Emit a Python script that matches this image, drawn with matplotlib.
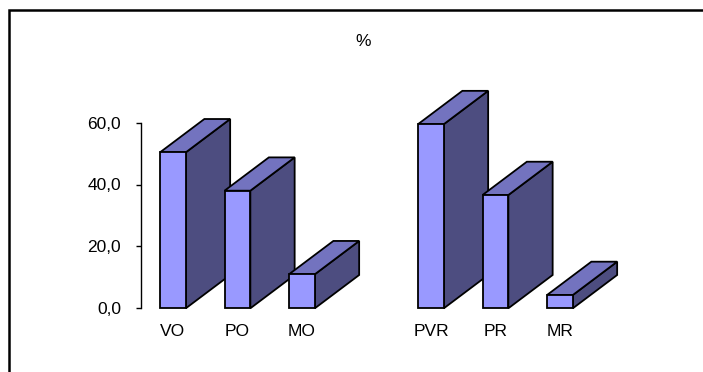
import matplotlib
matplotlib.use("Agg")
import matplotlib.pyplot as plt
from matplotlib.patches import Polygon, Rectangle

# Shares per group (%), read as the front-face height of each column
labels = ["VO", "PO", "MO", "", "PVR", "PR", "MR"]
values = [50.4, 38.0, 11.0, None, 59.5, 36.6, 4.3]

front_color = "#9999FF"
side_color = "#4D4D80"
top_color = "#7373BF"

plt.rcParams["font.family"] = ["Liberation Sans", "DejaVu Sans"]

fig = plt.figure(figsize=(7.03, 3.72), dpi=100)
W, H = 703, 372

# plot area placed in pixels: left axis at x=140.7, zero line at y=308.3
px_x, px_y = 64.5, 3.095  # pixels per category / per value unit
x0, y0 = 140.7, 308.3
xlim = (-0.5, 7.5)
ylim = (0, 80)
ax = fig.add_axes([x0 / W, (H - y0) / H,
                   (xlim[1] - xlim[0]) * px_x / W,
                   (ylim[1] - ylim[0]) * px_y / H])
ax.set_xlim(*xlim)
ax.set_ylim(*ylim)

half = 0.2            # half bar width in category units
dx = 44.3 / px_x      # depth offset, category units
dy = 33.3 / px_y      # depth offset, value units

z = 2
for i, v in enumerate(values):
    if v is None:
        continue
    l, r = i - half, i + half
    side = Polygon([(r, 0), (r + dx, dy), (r + dx, v + dy), (r, v)],
                   closed=True, facecolor=side_color, edgecolor="black",
                   linewidth=1.3, zorder=z, clip_on=False)
    top = Polygon([(l, v), (l + dx, v + dy), (r + dx, v + dy), (r, v)],
                  closed=True, facecolor=top_color, edgecolor="black",
                  linewidth=1.3, zorder=z, clip_on=False)
    front = Rectangle((l, 0), 2 * half, v, facecolor=front_color,
                      edgecolor="black", linewidth=1.3, zorder=z + 1,
                      clip_on=False)
    ax.add_patch(side)
    ax.add_patch(top)
    ax.add_patch(front)
    z += 2

ax.set_yticks([0, 20, 40, 60])
ax.set_yticklabels(["0,0", "20,0", "40,0", "60,0"], fontsize=12.5)
ax.set_xticks(range(len(labels)))
ax.set_xticklabels(labels, fontsize=12.5)
ax.tick_params(axis="x", length=0, pad=11)
ax.tick_params(axis="y", length=3.6, width=1, pad=10.5)

for s in ["top", "right", "bottom"]:
    ax.spines[s].set_visible(False)
ax.spines["left"].set_bounds(0, 60)
ax.spines["left"].set_linewidth(1)
ax.patch.set_visible(False)

fig.text(363 / W, 1 - 42 / H, "%", ha="center", va="center", fontsize=12.5)

# chart frame, only its top and left edges fall inside the image
fig.add_artist(Rectangle((9 / W, -0.1), 1.2, (H - 10) / H + 0.1,
                         transform=fig.transFigure, fill=False,
                         edgecolor="black", linewidth=1.8))

fig.savefig("out.png", dpi=100, facecolor="white")
